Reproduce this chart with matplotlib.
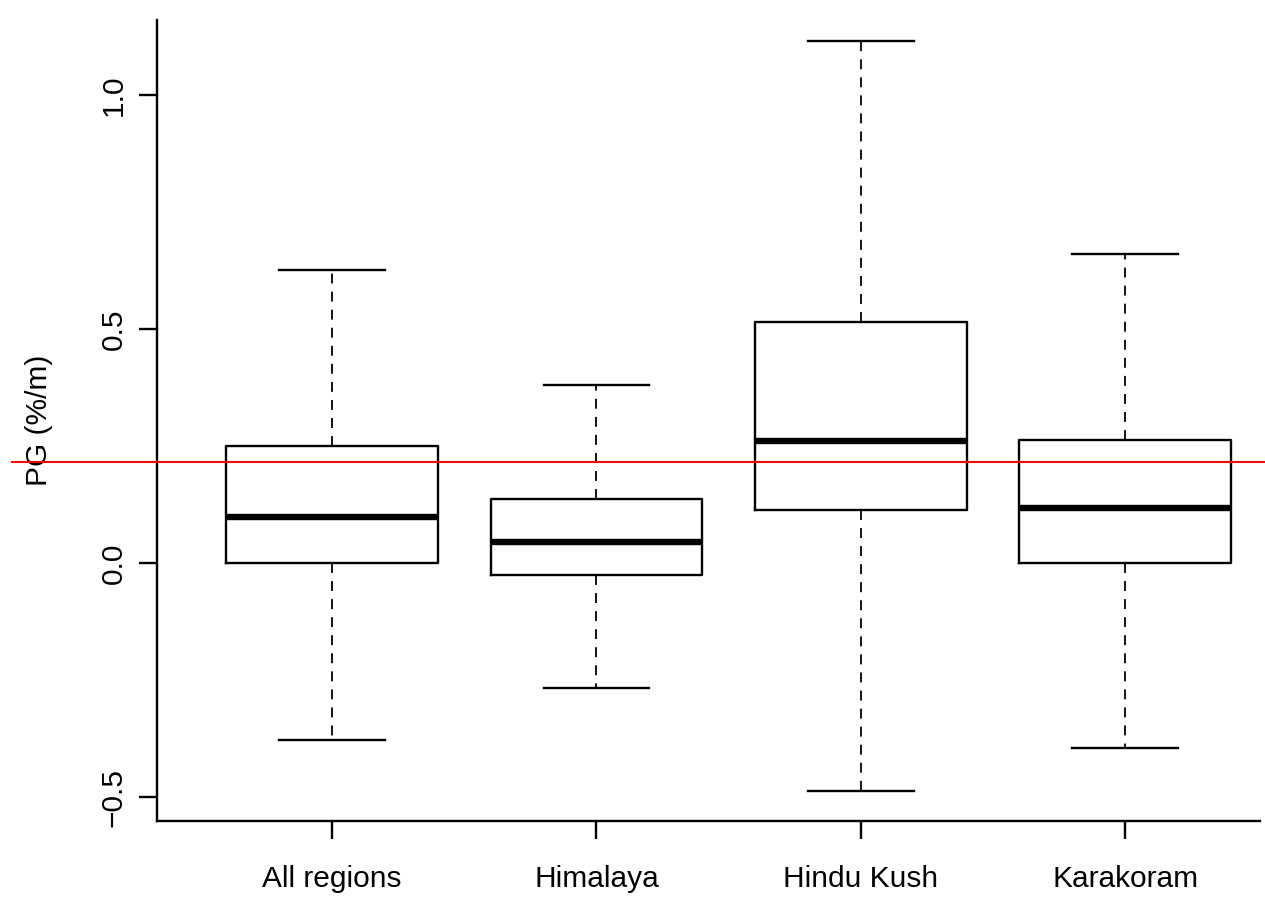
import matplotlib
matplotlib.use("Agg")
import matplotlib.pyplot as plt

plt.rcParams["font.family"] = ["Liberation Sans", "DejaVu Sans"]

# five-number summaries per region (PG, %/m)
regions = ["All regions", "Himalaya", "Hindu Kush", "Karakoram"]
whisker_low = [-0.378, -0.267, -0.487, -0.395]
q1 = [0.0, -0.026, 0.113, 0.0]
median = [0.098, 0.045, 0.261, 0.118]
q3 = [0.250, 0.137, 0.515, 0.263]
whisker_high = [0.626, 0.380, 1.115, 0.660]
reference_pg = 0.216

stats = []
for name, lo, a, m, b, hi in zip(regions, whisker_low, q1, median, q3, whisker_high):
    stats.append({"label": name, "whislo": lo, "q1": a, "med": m, "q3": b, "whishi": hi})

fig = plt.figure(figsize=(12.65, 8.99), dpi=100)
ax = fig.add_axes([157 / 1265, 78 / 899, 1103 / 1265, 801 / 899])

ax.bxp(
    stats,
    positions=[1, 2, 3, 4],
    widths=0.8,
    showfliers=False,
    boxprops=dict(color="black", linewidth=1.7),
    medianprops=dict(color="black", linewidth=4.6, solid_capstyle="butt"),
    whiskerprops=dict(color="black", linewidth=1.3, linestyle=(0, (5.5, 4.5))),
    capprops=dict(color="black", linewidth=1.7),
    capwidths=0.4,
)

# horizontal reference level, running past the plot region
ax.axhline(reference_pg, xmin=(12 - 157) / 1103, xmax=(1265 - 157) / 1103,
           color="red", linewidth=1.4, clip_on=False, zorder=5)

ax.set_xlim(0.338, 4.51)
ax.set_ylim(-0.551, 1.160)

for side in ("top", "right"):
    ax.spines[side].set_visible(False)
for side in ("left", "bottom"):
    ax.spines[side].set_linewidth(1.7)

ax.set_yticks([-0.5, 0.0, 0.5, 1.0])
ax.set_yticklabels(["\u22120.5", "0.0", "0.5", "1.0"], rotation=90, va="center")
ax.set_xticks([1, 2, 3, 4])
ax.set_xticklabels(regions)
ax.tick_params(axis="both", length=13, width=1.7, labelsize=21.5)
ax.tick_params(axis="x", pad=19)
ax.tick_params(axis="y", pad=8)

ax.set_ylabel("PG (%/m)", fontsize=21.5, labelpad=34)

fig.savefig("out.png", dpi=100)
